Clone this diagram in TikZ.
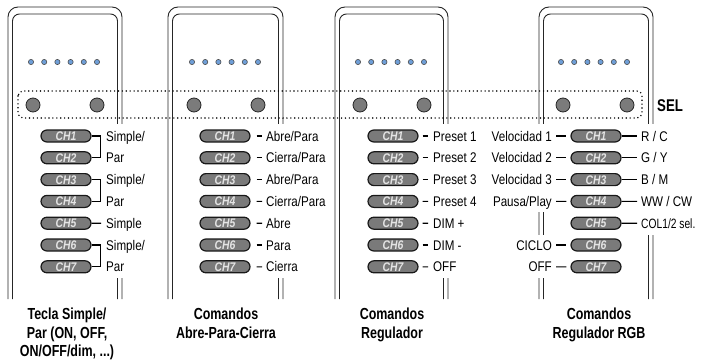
\documentclass[tikz,border=0pt]{standalone}
\usepackage{fontspec}
\setmainfont{Liberation Sans}
\newfontfamily\condr[FakeStretch=0.83]{Liberation Sans}
\newfontfamily\condn[FakeStretch=0.76]{Liberation Sans}
\newfontfamily\condb[FakeStretch=0.78]{Liberation Sans}
\definecolor{ledblue}{HTML}{6F9FD8}
\definecolor{btngrey}{HTML}{7B7B7B}
\definecolor{pillgrey}{HTML}{7A7A7A}
\definecolor{pilltext}{HTML}{E4E4E4}
\begin{document}
\begin{tikzpicture}[x=1pt,y=-1pt,
 dev/.style={line width=0.9pt, draw=black!85},
 led/.style={circle, fill=ledblue, draw=black!70, line width=0.6pt, inner sep=0pt, minimum size=5.2pt},
 btn/.style={circle, fill=btngrey, draw=black!85, line width=0.8pt, inner sep=0pt, minimum size=14pt},
 pill/.style={rounded corners=6pt, fill=pillgrey, draw=black!90, line width=1.2pt, minimum width=50pt, minimum height=12pt, inner sep=0pt, text height=8.8pt, text depth=0pt, font=\condr\bfseries\itshape\fontsize{12.5}{12.5}\selectfont, text=pilltext},
 lbl/.style={inner sep=0pt, text height=10pt, text depth=0pt, font=\condr\fontsize{14}{14}\selectfont},
 ttl/.style={align=center, inner sep=0pt, anchor=north, font=\condb\bfseries\fontsize{16}{18.5}\selectfont},
 con/.style={line width=1.1pt, draw=black},
 mask/.style={fill=white, draw=none},
 selbox/.style={line width=1.6pt, line cap=round, dash pattern=on 0pt off 3.9pt, rounded corners=5pt}
]
\useasboundingbox (0,0) rectangle (701,361);
% devices
\foreach \a/\b in {8/122, 168/283, 335/448, 539/653}{
  \draw[dev, rounded corners=10pt] (\a,299) -- (\a,7) -- (\b,7) -- (\b,299);
  \draw[dev, rounded corners=7pt] (\a+4.5,299) -- (\a+4.5,14) -- (\b-4.5,14) -- (\b-4.5,299);
}
% LEDs and buttons
\foreach \d/\c in {1/64, 2/225, 3/391, 4/594}{
  \foreach \k in {0,...,5}{
    \node[led] (led\d\k) at (\c-33+13.2*\k, 62) {};
  }
  \node[btn] (bl\d) at (\c-31, 105) {};
  \node[btn] (br\d) at (\c+33, 105) {};
}
% masks where labels cut the outlines
\fill[mask] (115,124) rectangle (125,278);
\fill[mask] (276,124) rectangle (286,278);
\fill[mask] (441,124) rectangle (451,278);
\fill[mask] (536,124) rectangle (546,212);
\fill[mask] (536,235) rectangle (546,278);
\fill[mask] (646,124) rectangle (656,235);
% SEL box
\draw[selbox] (18,91) rectangle (642,118);
\node[inner sep=0pt, anchor=west, text height=12pt, text depth=0pt, font=\condb\bfseries\fontsize{17}{17}\selectfont] (sel) at (657,105) {SEL};
% pills
\foreach \d/\cx in {1/66, 2/225, 3/393, 4/596}{
  \foreach \i in {1,...,7}{
    \node[pill] (p\d\i) at (\cx, {136+21.8*(\i-1)}) {CH\i};
  }
}
% device 1 labels
\node[lbl, anchor=west] (l11) at (106,136) {Simple/};
\node[lbl, anchor=west] (l12) at (106,157.8) {Par};
\node[lbl, anchor=west] (l13) at (106,179.6) {Simple/};
\node[lbl, anchor=west] (l14) at (106,201.4) {Par};
\node[lbl, anchor=west] (l15) at (106,223.2) {Simple};
\node[lbl, anchor=west] (l16) at (106,245) {Simple/};
\node[lbl, anchor=west] (l17) at (106,266.8) {Par};
\draw[con] (p11.east) -- ++(9,0) |- (p12.east);
\draw[con] (p13.east) -- ++(9,0) |- (p14.east);
\draw[con] (p16.east) -- ++(9,0) |- (p17.east);
\draw[con, shorten >=5pt] (p15.east) -- (l15.west);
% device 2 labels
\node[lbl, anchor=west] (l21) at (266,136) {Abre/Para};
\node[lbl, anchor=west] (l22) at (266,157.8) {Cierra/Para};
\node[lbl, anchor=west] (l23) at (266,179.6) {Abre/Para};
\node[lbl, anchor=west] (l24) at (266,201.4) {Cierra/Para};
\node[lbl, anchor=west] (l25) at (266,223.2) {Abre};
\node[lbl, anchor=west] (l26) at (266,245) {Para};
\node[lbl, anchor=west] (l27) at (266,266.8) {Cierra};
\foreach \i in {1,...,7}{
  \draw[con, shorten <=6pt, shorten >=4pt] (p2\i.east) -- (l2\i.west);
}
% device 3 labels
\node[lbl, anchor=west] (l31) at (433,136) {Preset 1};
\node[lbl, anchor=west] (l32) at (433,157.8) {Preset 2};
\node[lbl, anchor=west] (l33) at (433,179.6) {Preset 3};
\node[lbl, anchor=west] (l34) at (433,201.4) {Preset 4};
\node[lbl, anchor=west] (l35) at (433,223.2) {DIM +};
\node[lbl, anchor=west] (l36) at (433,245) {DIM -};
\node[lbl, anchor=west] (l37) at (433,266.8) {OFF};
\foreach \i in {1,...,7}{
  \draw[con, shorten <=4pt, shorten >=5pt] (p3\i.east) -- (l3\i.west);
}
% device 4 labels, left
\node[lbl, anchor=east] (m41) at (552,136) {Velocidad 1};
\node[lbl, anchor=east] (m42) at (552,157.8) {Velocidad 2};
\node[lbl, anchor=east] (m43) at (552,179.6) {Velocidad 3};
\node[lbl, anchor=east] (m44) at (552,201.4) {Pausa/Play};
\node[lbl, anchor=east] (m46) at (552,245) {CICLO};
\node[lbl, anchor=east] (m47) at (552,266.8) {OFF};
\foreach \i in {1,2,3,4,6,7}{
  \draw[con, shorten <=4pt, shorten >=4pt] (m4\i.east) -- (p4\i.west);
}
% device 4 labels, right
\node[lbl, anchor=west] (l41) at (641,136) {R / C};
\node[lbl, anchor=west] (l42) at (641,157.8) {G / Y};
\node[lbl, anchor=west] (l43) at (641,179.6) {B / M};
\node[lbl, anchor=west] (l44) at (641,201.4) {WW / CW};
\node[lbl, anchor=west, font=\condn\fontsize{13.5}{13.5}\selectfont] (l45) at (641,223.2) {COL1/2 sel.};
\foreach \i in {1,...,5}{
  \draw[con, shorten >=4pt] (p4\i.east) -- (l4\i.west);
}
% titles
\node[ttl] (t1) at (67,308) {Tecla Simple/\\Par (ON, OFF,\\ON/OFF/dim, ...)};
\node[ttl] (t2) at (226,308) {Comandos\\Abre-Para-Cierra};
\node[ttl] (t3) at (392,308) {Comandos\\Regulador};
\node[ttl] (t4) at (599,308) {Comandos\\Regulador RGB};
\end{tikzpicture}
\end{document}
